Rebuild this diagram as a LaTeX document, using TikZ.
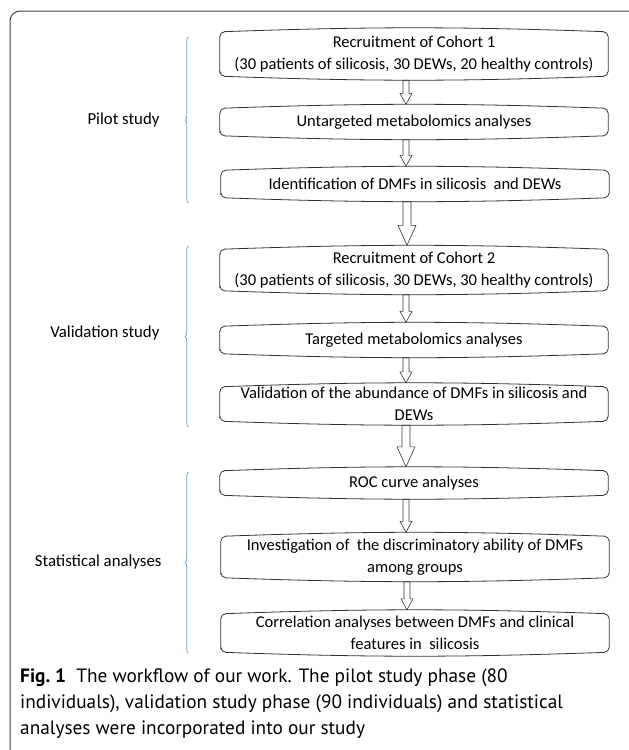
\documentclass[tikz,border=0pt]{standalone}
\usepackage{fontspec}
\setmainfont{Carlito}
\newfontfamily\capfont{PT Sans}
\usetikzlibrary{calc,decorations.pathreplacing}

\definecolor{bracketblue}{RGB}{91,155,213}

\tikzset{
  stagebox/.style={minimum width=388pt, inner sep=0pt, align=center, font=\fontsize{16.5}{22}\selectfont},
  stagelabel/.style={anchor=east, font=\fontsize{16.8}{20}\selectfont},
  outline/.style={line width=0.8pt, black!80, rounded corners=5pt},
  phasebrace/.style={bracketblue, line width=0.7pt, decorate, decoration={brace, amplitude=3.5pt}},
  blockarrow/.style args={#1/#2/#3}{line width=0.6pt, black!80, to path={let \p1=($(\tikztostart)+(-8pt,-4pt)$), \p2=($(\tikztotarget)+(-8pt,4pt)$) in (\x1-#1,\y1) -- (\x1-#1,\y2+#3) -- (\x1-#2,\y2+#3) -- (\x1,\y2) -- (\x1+#2,\y2+#3) -- (\x1+#1,\y2+#3) -- (\x1+#1,\y1) -- cycle}},
  smallarrow/.style={blockarrow=3/6/11},
  bigarrow/.style={blockarrow=4/9/20},
}

\begin{document}
\begin{tikzpicture}[x=1pt,y=-1pt]
\useasboundingbox (0,0) rectangle (629,750);
\clip (0,0) rectangle (629,750);
% frame
\draw[line width=1pt, black!75, rounded corners=10pt] (10,11) rectangle (640,770);

% phases
\node[stagelabel] (pilot) at (163,120) {Pilot study};
\node[stagelabel] (validation) at (163,333) {Validation study};
\node[stagelabel] (statistics) at (165,562) {Statistical analyses};
\draw[phasebrace] (188.5,203) -- (188.5,37);
\draw[phasebrace] (188.5,427) -- (188.5,246);
\draw[phasebrace] (188.5,653) -- (188.5,472);

% stages
\node[stagebox, minimum height=44pt] (cohort1) at (414,54) {Recruitment of Cohort 1\\(30 patients of silicosis, 30 DEWs, 20 healthy controls)};
\node[stagebox, minimum height=27pt] (untargeted) at (414,122) {Untargeted metabolomics analyses};
\node[stagebox, minimum height=27pt] (identify) at (415,184) {Identification of DMFs in silicosis~ and DEWs};
\node[stagebox, minimum height=41pt] (cohort2) at (414,270) {Recruitment of Cohort 2\\(30 patients of silicosis, 30 DEWs, 30 healthy controls)};
\node[stagebox, minimum height=27pt] (targeted) at (414,340) {Targeted metabolomics analyses};
\node[stagebox, minimum height=34pt] (abundance) at (414,404) {Validation of the abundance of DMFs in silicosis and\\DEWs};
\node[stagebox, minimum height=24pt] (roc) at (414,483) {ROC curve analyses};
\node[stagebox, minimum height=41pt] (ability) at (415,557) {Investigation of~ the discriminatory ability of DMFs\\among groups};
\node[stagebox, minimum height=38pt] (correlation) at (415,633) {Correlation analyses between DMFs and clinical\\features in~ silicosis};
\foreach \n in {cohort1,untargeted,identify,cohort2,targeted,abundance,roc,ability,correlation}
  \draw[outline] (\n.south west) -- (\n.north west) to[bend left=2] (\n.north east) -- (\n.south east) to[bend left=2] cycle;

% arrows
\draw[smallarrow] (cohort1.south) to (untargeted.north);
\draw[smallarrow] (untargeted.south) to (identify.north);
\draw[bigarrow] (identify.south) to (cohort2.north);
\draw[smallarrow] (cohort2.south) to (targeted.north);
\draw[smallarrow] (targeted.south) to (abundance.north);
\draw[bigarrow] (abundance.south) to (roc.north);
\draw[smallarrow] (roc.south) to (ability.north);
\draw[smallarrow] (ability.south) to (correlation.north);

% caption
\node[anchor=north west, align=left, inner sep=0pt, font=\capfont\fontsize{19.3}{26}\selectfont] (caption) at (20,669)
  {{\bfseries Fig.~1}\ \ The workflow of our work. The pilot study phase (80\\individuals), validation study phase (90 individuals) and statistical\\analyses were incorporated into our study};
\end{tikzpicture}
\end{document}
